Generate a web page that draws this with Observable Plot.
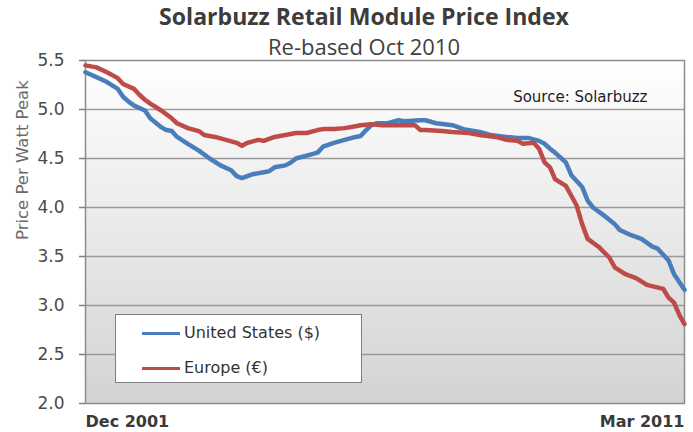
<!DOCTYPE html>
<html><head><meta charset="utf-8">
<script src="https://cdn.jsdelivr.net/npm/d3@7"></script>
<script src="https://cdn.jsdelivr.net/npm/@observablehq/plot@0.6"></script>
<style>
body{margin:0;background:#fff;}
#wrap{position:relative;width:693px;height:432px;overflow:hidden;font-family:"DejaVu Sans",sans-serif;}
#head{position:relative;height:52px;}
#title{position:absolute;left:364px;top:5px;transform:translateX(-50%);white-space:nowrap;font-family:"Open Sans",sans-serif;font-weight:bold;font-size:19px;color:#3c3c3c;line-height:1;}
#sub{position:absolute;left:364px;top:36px;transform:translateX(-50%);white-space:nowrap;font-family:"Open Sans",sans-serif;font-size:17px;color:#404040;line-height:1;}
#legend{position:absolute;left:115px;top:314px;width:247px;height:69px;box-sizing:border-box;border:1.5px solid #7f7f7f;background:#fff;}
.item{position:absolute;left:26px;height:20px;white-space:nowrap;}
.sw{position:absolute;left:0;top:9px;width:38px;height:3px;}
.lab{position:absolute;left:42px;top:0;font-size:16px;line-height:20px;color:#333;}
</style></head><body>
<div id="wrap">
  <div id="head"><div id="title"></div><div id="sub"></div></div>
  <div id="chart"></div>
  <div id="legend"></div>
</div>
<script>
const titleText = "Solarbuzz Retail Module Price Index";
const subtitleText = "Re-based Oct 2010";
const sourceText = "Source: Solarbuzz";
const yLabel = "Price Per Watt Peak";
const xLabels = ["Dec 2001", "Mar 2011"];
const yTicks = [2.0, 2.5, 3.0, 3.5, 4.0, 4.5, 5.0, 5.5];
const seriesNames = ["United States ($)", "Europe (€)"];
const seriesColors = ["#4a7ebb", "#be4b48"];

// months counted from Dec 2001
const usMonths = [0,2,4,6,7,8,9,11,12,14,15,16,17,19,21,23,25,27,28,29,31,33,34,35,37,38,39,41,43,44,46,48,50,51,52,53,54,56,58,59,62,63,65,68,70,73,75,78,80,82,84,85,86,87,89,90,92,93,94,96,98,99,101,103,105,106,108,109,111];
const usPrice = [5.38,5.33,5.28,5.21,5.13,5.08,5.04,4.99,4.91,4.82,4.79,4.78,4.72,4.65,4.58,4.50,4.43,4.38,4.32,4.30,4.34,4.36,4.37,4.41,4.43,4.46,4.50,4.53,4.56,4.62,4.66,4.69,4.72,4.73,4.79,4.84,4.86,4.86,4.89,4.88,4.89,4.89,4.86,4.84,4.80,4.77,4.74,4.72,4.71,4.71,4.68,4.65,4.60,4.56,4.46,4.33,4.21,4.07,4.00,3.92,3.83,3.77,3.72,3.68,3.60,3.58,3.46,3.32,3.16];
const euMonths = [0,2,4,6,7,9,10,11,12,14,16,17,19,21,22,24,26,28,29,30,32,33,35,37,39,41,43,44,46,48,50,51,53,55,58,59,61,62,63,66,68,71,73,76,78,80,81,83,84,85,86,87,89,90,91,92,93,95,97,98,100,102,104,107,108,109,110,111];
const euPrice = [5.45,5.43,5.38,5.32,5.26,5.21,5.15,5.10,5.06,4.99,4.91,4.86,4.81,4.78,4.74,4.72,4.69,4.66,4.63,4.66,4.69,4.68,4.72,4.74,4.76,4.76,4.79,4.80,4.80,4.81,4.83,4.84,4.85,4.84,4.84,4.84,4.84,4.79,4.79,4.78,4.77,4.76,4.74,4.72,4.69,4.68,4.65,4.66,4.60,4.46,4.41,4.29,4.22,4.12,4.02,3.83,3.68,3.60,3.49,3.39,3.32,3.28,3.21,3.17,3.08,3.03,2.90,2.81];

const parse = d3.utcParse("%b %Y");
const start = parse(xLabels[0]);
const end = parse(xLabels[1]);
const rows = [];
usMonths.forEach((m, i) => rows.push({date: d3.utcMonth.offset(start, m), value: usPrice[i], series: seriesNames[0]}));
euMonths.forEach((m, i) => rows.push({date: d3.utcMonth.offset(start, m), value: euPrice[i], series: seriesNames[1]}));

document.getElementById("title").textContent = titleText;
document.getElementById("sub").textContent = subtitleText;

const chart = Plot.plot({
  width: 693,
  height: 380,
  marginTop: 8,
  marginBottom: 29,
  marginLeft: 85,
  marginRight: 9,
  style: {fontFamily: "DejaVu Sans, sans-serif", fontSize: "16px", background: "transparent", overflow: "visible"},
  x: {type: "utc", domain: [start, end], axis: null},
  y: {domain: [2, 5.5], axis: null},
  color: {domain: seriesNames, range: seriesColors},
  marks: [
    Plot.frame({fill: "url(#bggrad)", stroke: "none"}),
    Plot.gridY(yTicks.slice(1, -1), {stroke: "#9a9a9a", strokeOpacity: 1, strokeWidth: 1.5}),
    Plot.frame({stroke: "#8c8c8c", strokeWidth: 1.5}),
    Plot.axisY({ticks: yTicks, tickFormat: d3.format(".1f"), tickSize: 6, tickPadding: 15, fontSize: 17, stroke: "#7f7f7f", strokeWidth: 1.5, fill: "#4a4a4a", label: null}),
    Plot.text([yLabel], {text: d => d, frameAnchor: "left", rotate: -90, dx: -63, dy: 8, fontSize: 16.5, fill: "#6b6b6b"}),
    Plot.text([sourceText], {text: d => d, frameAnchor: "top-right", textAnchor: "end", lineAnchor: "middle", dx: -37, dy: 37, fontSize: 15, fill: "#1e1e1e"}),
    Plot.lineY(rows, {x: "date", y: "value", z: "series", stroke: "series", strokeWidth: 4.5, strokeLinejoin: "round", strokeLinecap: "round"}),
    Plot.text([xLabels[0]], {x: d => parse(d), text: d => d, frameAnchor: "bottom", textAnchor: "start", lineAnchor: "middle", dy: 18, fontWeight: "bold", fontSize: 16, fill: "#3a3a3a"}),
    Plot.text([xLabels[1]], {x: d => parse(d), text: d => d, frameAnchor: "bottom", textAnchor: "end", lineAnchor: "middle", dy: 18, fontWeight: "bold", fontSize: 16, fill: "#3a3a3a"})
  ]
});

const defs = d3.select(chart).insert("defs", ":first-child");
const grad = defs.append("linearGradient").attr("id", "bggrad").attr("x1", 0).attr("y1", 0).attr("x2", 0).attr("y2", 1);
grad.append("stop").attr("offset", "0%").attr("stop-color", "#ffffff");
grad.append("stop").attr("offset", "100%").attr("stop-color", "#d3d3d3");
document.getElementById("chart").appendChild(chart);

const legend = d3.select("#legend");
seriesNames.forEach((name, i) => {
  const it = legend.append("div").attr("class", "item").style("top", (8 + i * 35) + "px");
  it.append("div").attr("class", "sw").style("background", seriesColors[i]);
  it.append("div").attr("class", "lab").text(name);
});

function fit(el, w) {
  const r = el.getBoundingClientRect().width;
  const fs = parseFloat(getComputedStyle(el).fontSize);
  el.style.fontSize = (fs * w / r) + "px";
}
fit(document.getElementById("title"), 410);
fit(document.getElementById("sub"), 192);
</script>
</body></html>
